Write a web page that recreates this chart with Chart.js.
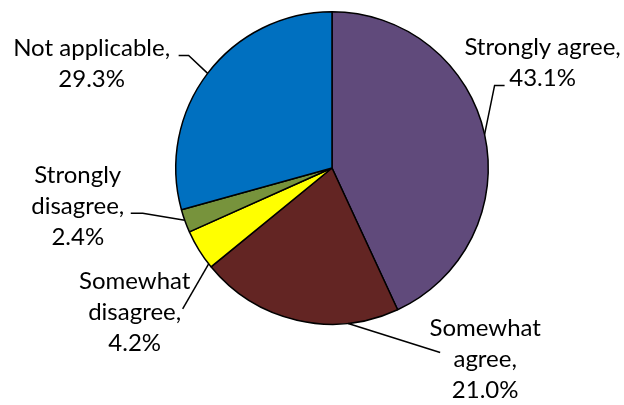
<!DOCTYPE html>
<html>
<head>
<meta charset="utf-8">
<script src="https://cdn.jsdelivr.net/npm/chart.js@4"></script>
<style>
    html, body { margin: 0; padding: 0; background: #fff; }
    #wrap { width: 624px; height: 405px; }
</style>
</head>
<body>
<div id="wrap"><canvas id="chart" width="624" height="405"></canvas></div>
<script>
// ── Dados ─────────────────────────────────────────────────────────────────
const CATEGORIES = ["Strongly agree", "Somewhat agree", "Somewhat disagree", "Strongly disagree", "Not applicable"];
const VALUES     = [43.1, 21.0, 4.2, 2.4, 29.3];
const LABEL_LINES = [
    ["Strongly agree,", "43.1%"],
    ["Somewhat", "agree,", "21.0%"],
    ["Somewhat", "disagree,", "4.2%"],
    ["Strongly", "disagree,", "2.4%"],
    ["Not applicable,", "29.3%"]
];

// ── Estilo ────────────────────────────────────────────────────────────────
const COLORS = ["#604A7B", "#632523", "#FFFF00", "#77933C", "#0070C0"];
const FONT = "24px Lato, 'Open Sans', sans-serif";
const LINE_H = 31;

// onde a linha guia toca a fatia (fração do ângulo da fatia)
const ANCHOR_FRAC = [0.5, 0.25, 0.09, 0.53, 0.5];
// offsets relativos ao ponto de ancoragem: pontos da linha guia e centro/baseline do texto
const LEADERS = [
    [[10, -49], [20, -49]],
    [[92, 29]],
    [[-26, 45]],
    [[-42, -7], [-54, -7]],
    [[-19, -18], [-29, -18]]
];
const TEXT_OFFSET = [[58, -79], [137, 13], [-74, 25], [-107, -37], [-116, -17]];

// ── Plugin de rótulos ─────────────────────────────────────────────────────
const labelPlugin = {
    id: "pieLabels",
    afterDraw(chart) {
        const ctx  = chart.ctx;
        const arcs = chart.getDatasetMeta(0).data;
        ctx.save();
        ctx.strokeStyle = "#000";
        ctx.lineWidth = 1.5;
        ctx.fillStyle = "#000";
        ctx.font = FONT;
        ctx.textAlign = "center";
        ctx.textBaseline = "alphabetic";

        arcs.forEach((arc, i) => {
            const { x, y, startAngle, endAngle, outerRadius } = arc.getProps(["x", "y", "startAngle", "endAngle", "outerRadius"], true);
            const a  = startAngle + (endAngle - startAngle) * ANCHOR_FRAC[i];
            const ax = x + Math.cos(a) * outerRadius;
            const ay = y + Math.sin(a) * outerRadius;

            ctx.beginPath();
            ctx.moveTo(ax, ay);
            LEADERS[i].forEach(([dx, dy]) => ctx.lineTo(ax + dx, ay + dy));
            ctx.stroke();

            const [tx, ty] = TEXT_OFFSET[i];
            LABEL_LINES[i].forEach((line, k) => {
                ctx.fillText(line, ax + tx, ay + ty + k * LINE_H);
            });
        });
        ctx.restore();
    }
};

new Chart(document.getElementById("chart"), {
    type: "pie",
    data: {
        labels: CATEGORIES,
        datasets: [{
            data: VALUES,
            backgroundColor: COLORS,
            borderColor: "#000",
            borderWidth: 1.5
        }]
    },
    options: {
        responsive: false,
        animation: false,
        layout: { padding: { top: 11, bottom: 80, left: 175, right: 135 } },
        plugins: {
            legend: { display: false },
            tooltip: { enabled: false }
        }
    },
    plugins: [labelPlugin]
});
</script>
</body>
</html>
